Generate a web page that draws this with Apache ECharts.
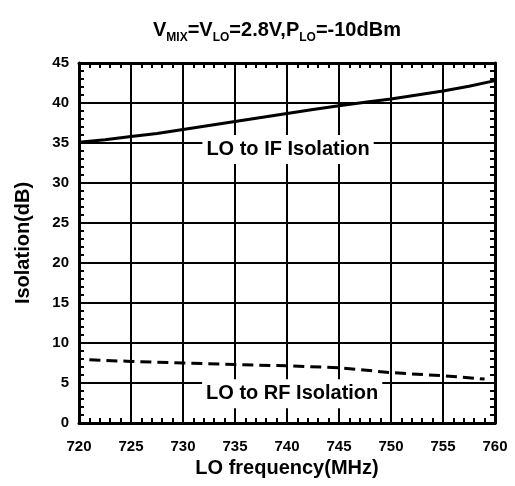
<!DOCTYPE html>
<html><head><meta charset="utf-8">
<script src="https://cdn.jsdelivr.net/npm/echarts@6/dist/echarts.min.js"></script>
<style>html,body{margin:0;padding:0;background:#fff}#c{width:515px;height:486px}</style>
</head><body><div id="c"></div>
<script>
const xTicks = [720, 725, 730, 735, 740, 745, 750, 755, 760];
const yTicks = [0, 5, 10, 15, 20, 25, 30, 35, 40, 45];
const ifFreq = [720, 722.5, 725, 727.5, 730, 732.5, 735, 737.5, 740, 742.5, 745, 747.5, 750, 752.5, 755, 757.5, 760];
const ifIso  = [35.1, 35.4, 35.8, 36.2, 36.7, 37.2, 37.7, 38.2, 38.7, 39.2, 39.65, 40.1, 40.5, 41.0, 41.5, 42.1, 42.8];
const rfFreq = [721, 725, 730, 735, 740, 745, 750, 755, 759];
const rfIso  = [7.9, 7.7, 7.5, 7.3, 7.15, 6.9, 6.3, 5.9, 5.5];
const labelNames = ['LO to IF Isolation', 'LO to RF Isolation'];
const labelX = [740.1, 740.5];
const labelY = [34.2, 3.65];

const FONT = '"Liberation Sans", Arial, sans-serif';
const chart = echarts.init(document.getElementById('c'), null, {renderer: 'canvas'});
const pair = (xs, ys) => xs.map((x, i) => [x, ys[i]]);
const minor = {show: true, splitNumber: 5, length: 5, lineStyle: {color: '#000', width: 2}};
chart.setOption({
  animation: false,
  backgroundColor: '#fff',
  title: {
    text: '{b|V}{s|MIX}{b|=V}{s|LO}{b|=2.8V,P}{s|LO}{b|=-10dBm}',
    left: 153, top: 20, padding: 0,
    textStyle: {
      rich: {
        b: {fontFamily: FONT, fontWeight: 'bold', fontSize: 20, lineHeight: 20, color: '#000'},
        s: {fontFamily: FONT, fontWeight: 'bold', fontSize: 12, lineHeight: 12, color: '#000', padding: [16, 0, 0, 0]}
      }
    }
  },
  grid: {left: 79, right: 20, top: 63, bottom: 63, containLabel: false},
  xAxis: [{
    type: 'value', min: xTicks[0], max: xTicks[xTicks.length - 1], interval: 5,
    position: 'bottom',
    axisLine: {show: true, onZero: false, lineStyle: {color: '#000', width: 3}},
    axisTick: {show: true, inside: true, length: 5, lineStyle: {color: '#000', width: 2}},
    minorTick: minor,
    axisLabel: {fontFamily: FONT, fontWeight: 'bold', fontSize: 15, color: '#000', margin: 16},
    splitLine: {show: true, lineStyle: {color: '#000', width: 2}},
    name: 'LO frequency(MHz)', nameLocation: 'middle', nameGap: 25,
    nameTextStyle: {fontFamily: FONT, fontWeight: 'bold', fontSize: 20, color: '#000'}
  }, {
    type: 'value', min: xTicks[0], max: xTicks[xTicks.length - 1], interval: 5,
    position: 'top',
    axisLine: {show: true, onZero: false, lineStyle: {color: '#000', width: 3}},
    axisTick: {show: true, inside: true, length: 5, lineStyle: {color: '#000', width: 2}},
    minorTick: minor,
    axisLabel: {show: false}, splitLine: {show: false}
  }],
  yAxis: [{
    type: 'value', min: yTicks[0], max: yTicks[yTicks.length - 1], interval: 5,
    position: 'left',
    axisLine: {show: true, onZero: false, lineStyle: {color: '#000', width: 3}},
    axisTick: {show: true, inside: true, length: 5, lineStyle: {color: '#000', width: 2}},
    minorTick: minor,
    axisLabel: {fontFamily: FONT, fontWeight: 'bold', fontSize: 15, color: '#000', margin: 10},
    splitLine: {show: true, lineStyle: {color: '#000', width: 2}},
    name: 'Isolation(dB)', nameLocation: 'middle', nameGap: 46,
    nameTextStyle: {fontFamily: FONT, fontWeight: 'bold', fontSize: 20, color: '#000'}
  }, {
    type: 'value', min: yTicks[0], max: yTicks[yTicks.length - 1], interval: 5,
    position: 'right',
    axisLine: {show: true, onZero: false, lineStyle: {color: '#000', width: 3}},
    axisTick: {show: true, inside: true, length: 5, lineStyle: {color: '#000', width: 2}},
    minorTick: minor,
    axisLabel: {show: false}, splitLine: {show: false}
  }],
  series: [{
    type: 'line', data: pair(ifFreq, ifIso), showSymbol: false, symbol: 'none',
    lineStyle: {color: '#000', width: 3}, z: 3
  }, {
    type: 'line', data: pair(rfFreq, rfIso), showSymbol: false, symbol: 'none',
    lineStyle: {color: '#000', width: 3, type: [11, 6]}, z: 3
  }, {
    type: 'scatter', symbolSize: 0, z: 5, silent: true,
    itemStyle: {opacity: 1},
    emphasis: {disabled: true},
    data: labelNames.map((n, i) => ({name: n, value: [labelX[i], labelY[i]]})),
    label: {
      show: true, position: 'inside', formatter: p => p.name,
      fontFamily: FONT, fontWeight: 'bold', fontSize: 20, lineHeight: 20, color: '#000',
      backgroundColor: '#fff', padding: [5, 4, 4, 4], opacity: 1
    }
  }]
});
</script></body></html>
